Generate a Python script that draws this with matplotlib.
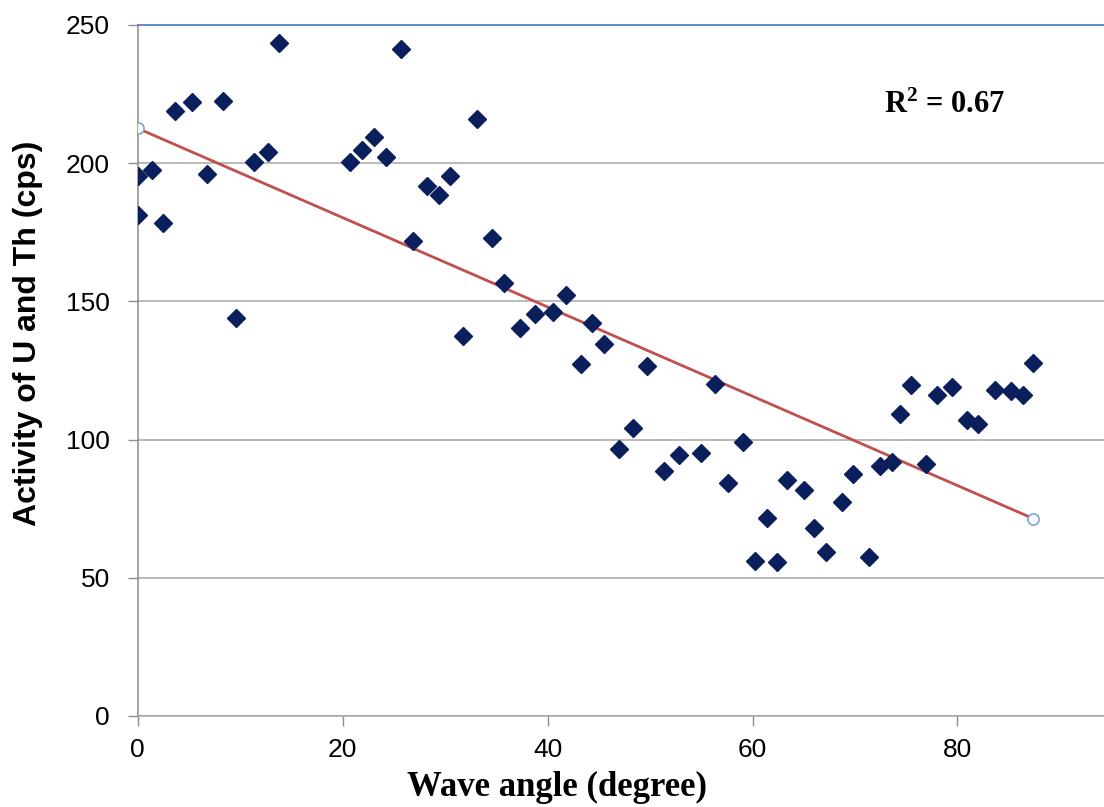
import numpy as np
import matplotlib
matplotlib.use('Agg')
from matplotlib import pyplot as plt

# wave angle (degree) vs activity of U and Th (cps)
angle = [0.0, 0.0, 1.4, 2.5, 3.6, 5.3, 6.8, 8.3, 9.6, 11.4, 12.7, 13.8,
         20.7, 21.9, 23.1, 24.2, 25.7, 26.9, 28.2, 29.4, 30.5, 31.7, 33.1, 34.6,
         35.7, 37.3, 38.8, 40.5, 41.8, 43.3, 44.3, 45.5, 47.0, 48.3, 49.7, 51.4,
         52.8, 55.0, 56.3, 57.6, 59.1, 60.2, 61.4, 62.4, 63.4, 65.0, 66.0, 67.2,
         68.7, 69.8, 71.4, 72.4, 73.6, 74.4, 75.5, 76.9, 78.0, 79.5, 80.9, 82.0,
         83.7, 85.2, 86.4, 87.4]
activity = [195.4, 181.2, 197.5, 178.3, 219.0, 222.3, 196.1, 222.4, 144.0, 200.3, 203.9, 243.6,
            200.3, 204.8, 209.4, 202.4, 241.2, 172.0, 191.9, 188.5, 195.4, 137.5, 216.0, 172.9,
            156.5, 140.3, 145.3, 146.1, 152.3, 127.2, 142.0, 134.5, 96.6, 104.3, 126.6, 88.6,
            94.4, 95.0, 120.1, 84.3, 99.0, 56.1, 71.5, 55.6, 85.3, 81.9, 68.1, 59.4,
            77.3, 87.6, 57.6, 90.6, 91.8, 109.4, 119.6, 91.2, 116.1, 119.1, 107.1, 105.6,
            117.9, 117.5, 116.1, 127.8]
r2_text = r'R$^{2}$ = 0.67'

# superscript in the same bold serif face
plt.rcParams['mathtext.fontset'] = 'custom'
plt.rcParams['mathtext.rm'] = 'Liberation Serif:bold'
plt.rcParams['mathtext.it'] = 'Liberation Serif:bold'
plt.rcParams['mathtext.bf'] = 'Liberation Serif:bold'

x = np.array(angle)
y = np.array(activity)

# linear trendline (least squares) like excel
k, b = np.polyfit(x, y, 1)
xt = np.array([x.min(), x.max()])
yt = k * xt + b

fig = plt.figure(figsize=(11.04, 8.07), dpi=100)
ax = fig.add_axes([0.1247, 0.1128, 0.8753, 0.8563])

ax.plot(xt, yt, color='#c0504d', lw=2.0, zorder=2)
ax.plot(xt, yt, ls='none', marker='o', ms=8, mfc='white', mec='#7fa6cf', mew=1.2, zorder=3)
ax.plot(x, y, ls='none', marker='D', ms=9, color='#0b1f5c', mec='#0b1f5c', zorder=4)

ax.set_xlim(0, 94.3)
ax.set_ylim(0, 250)
ax.set_xticks([0, 20, 40, 60, 80])
ax.set_yticks([0, 50, 100, 150, 200, 250])

ax.yaxis.grid(True, color='#a6a6a6', lw=1.1)
ax.set_axisbelow(True)

ax.spines['right'].set_visible(False)
ax.spines['top'].set_color('#5b8ccc')
ax.spines['top'].set_linewidth(1.4)
ax.spines['left'].set_color('#8c8c8c')
ax.spines['bottom'].set_color('#a6a6a6')
ax.spines['left'].set_linewidth(1.1)
ax.spines['bottom'].set_linewidth(1.1)

ax.tick_params(axis='both', direction='out', length=7, width=1.0, color='#8c8c8c',
               labelsize=19, labelcolor='black')
ax.tick_params(axis='y', pad=13)
ax.tick_params(axis='x', pad=9)
for lab in ax.get_xticklabels() + ax.get_yticklabels():
    lab.set_family('Liberation Sans')

ax.set_ylabel('Activity of U and Th (cps)', fontsize=23, fontweight='bold',
              family='Liberation Sans')
ax.yaxis.set_label_coords(-0.098, 0.554)
ax.set_xlabel('Wave angle (degree)', fontsize=25, fontweight='bold',
              family='Liberation Serif')
ax.xaxis.set_label_coords(0.434, -0.08)
ax.xaxis.label.set_va('top')

ax.text(78.7, 221, r2_text, fontsize=22, fontweight='bold', family='Liberation Serif',
        ha='center', va='center')

fig.savefig('out.png', dpi=100)
